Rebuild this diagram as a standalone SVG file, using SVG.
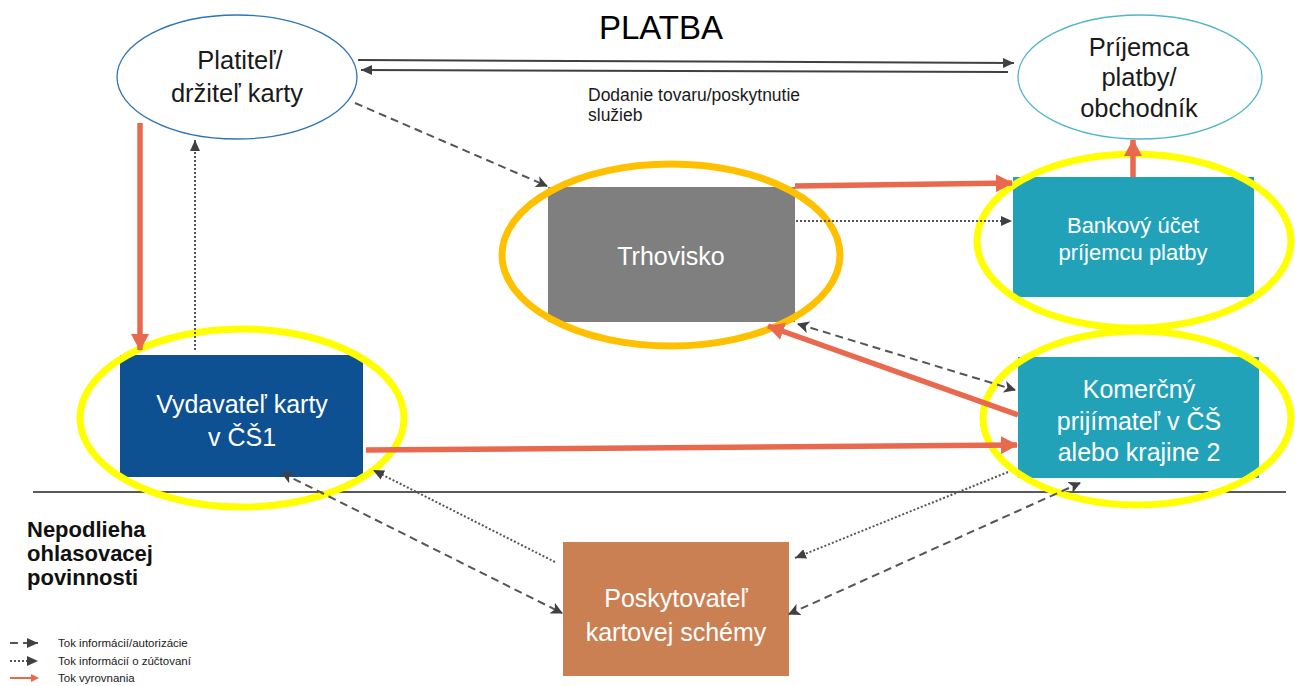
<svg xmlns="http://www.w3.org/2000/svg" width="1295" height="686" viewBox="0 0 1295 686">
  <style>
    text { font-family: "Liberation Sans", Arial, sans-serif; }
    .lbl { fill: #ffffff; font-size: 25px; text-anchor: middle; }
    .lblS { fill: #ffffff; font-size: 22px; text-anchor: middle; }
    .dark { fill: #1a1a1a; font-size: 25.5px; text-anchor: middle; }
    .note { font-size: 22px; font-weight: bold; fill: #111111; }
    .key { font-size: 11.5px; fill: #1a1a1a; }
    .settle { stroke: #E8694E; stroke-width: 5.5; fill: none; }
    .info { stroke: #555555; stroke-width: 2; stroke-dasharray: 8 5; fill: none; }
    .clear { stroke: #555555; stroke-width: 2; stroke-dasharray: 2 2; fill: none; }
    .goods { stroke: #404040; stroke-width: 2; fill: none; }
    .ringY { fill: none; stroke: #FFFF00; stroke-width: 7; }
    .ringO { fill: none; stroke: #FFC000; stroke-width: 7; }
  </style>
  <defs>
    <marker id="redHead" markerUnits="userSpaceOnUse" markerWidth="18" markerHeight="18" refX="16" refY="9" orient="auto">
      <path d="M0,0 L17,9 L0,18 z" fill="#E8694E"/>
    </marker>
    <marker id="grayHead" markerUnits="userSpaceOnUse" markerWidth="12" markerHeight="12" refX="11" refY="6" orient="auto-start-reverse">
      <path d="M0,0 L12,6 L0,12 L3,6 z" fill="#404040"/>
    </marker>
    <marker id="lineHead" markerUnits="userSpaceOnUse" markerWidth="12" markerHeight="12" refX="11" refY="6" orient="auto-start-reverse">
      <path d="M0,1 L11,6 L0,11 z" fill="#404040"/>
    </marker>
  </defs>

  <rect width="1295" height="686" fill="#ffffff"/>

  <text x="661" y="39" style="font-size:33px; fill:#000; text-anchor:middle">PLATBA</text>

  <!-- separator line -->
  <line x1="33" y1="492" x2="1286" y2="492" stroke="#595959" stroke-width="2"/>

  <g id="payer">
    <ellipse cx="237" cy="77" rx="120" ry="62" fill="#ffffff" stroke="#2E75B6" stroke-width="1.3"/>
    <text class="dark" x="240" y="69">Platiteľ/</text>
    <text class="dark" x="237" y="102">držiteľ karty</text>
  </g>

  <g id="payee">
    <ellipse cx="1140" cy="77" rx="122" ry="62" fill="#ffffff" stroke="#4DB7C9" stroke-width="1.3"/>
    <text class="dark" x="1139" y="56">Príjemca</text>
    <text class="dark" x="1139" y="86">platby/</text>
    <text class="dark" x="1139" y="117">obchodník</text>
  </g>

  <g id="marketplace">
    <rect x="548" y="187" width="247" height="135" fill="#7F7F7F"/>
    <text class="lbl" x="671" y="265">Trhovisko</text>
  </g>

  <g id="bank-account">
    <rect x="1013" y="177" width="241" height="120" fill="#22A2B9"/>
    <text class="lblS" x="1133" y="233">Bankový účet</text>
    <text class="lblS" x="1133" y="260">príjemcu platby</text>
  </g>

  <g id="acquirer">
    <rect x="1018" y="357" width="241" height="121" fill="#22A2B9"/>
    <text class="lbl" x="1139" y="398">Komerčný</text>
    <text class="lbl" x="1139" y="430">prijímateľ v ČŠ</text>
    <text class="lbl" x="1139" y="461">alebo krajine 2</text>
  </g>

  <g id="issuer">
    <rect x="120" y="355" width="243" height="122" fill="#0E5192"/>
    <text class="lbl" x="242" y="413">Vydavateľ karty</text>
    <text class="lbl" x="242" y="446">v ČŠ1</text>
  </g>

  <g id="scheme">
    <rect x="563" y="542" width="226" height="134" fill="#CB8054"/>
    <text class="lbl" x="676" y="607">Poskytovateľ</text>
    <text class="lbl" x="676" y="641">kartovej schémy</text>
  </g>

  <!-- highlight rings -->
  <g id="highlights">
    <ellipse class="ringO" cx="671" cy="255" rx="169" ry="91"/>
    <ellipse class="ringY" cx="1134" cy="241" rx="157" ry="87"/>
    <ellipse class="ringY" cx="1137" cy="418" rx="154" ry="87"/>
    <ellipse class="ringY" cx="242" cy="418" rx="162" ry="89"/>
  </g>

  <g id="connectors">
    <!-- goods / services exchange -->
    <line class="goods" x1="358" y1="60" x2="1014" y2="63" marker-end="url(#lineHead)"/>
    <line class="goods" x1="1008" y1="72" x2="361" y2="70" marker-end="url(#lineHead)"/>

    <!-- settlement flows -->
    <line class="settle" x1="140" y1="123" x2="140" y2="350" marker-end="url(#redHead)"/>
    <line class="settle" x1="1133" y1="177" x2="1133" y2="140" marker-end="url(#redHead)"/>
    <line class="settle" x1="795" y1="186" x2="1012" y2="183" marker-end="url(#redHead)"/>
    <line class="settle" x1="366" y1="450" x2="1017" y2="445" marker-end="url(#redHead)"/>
    <line class="settle" x1="1018" y1="415" x2="768" y2="326" marker-end="url(#redHead)"/>

    <!-- authorisation flows -->
    <line class="info" x1="355" y1="103" x2="547" y2="186" marker-end="url(#grayHead)"/>
    <line class="info" x1="798" y1="324" x2="1015" y2="390" marker-start="url(#grayHead)" marker-end="url(#grayHead)"/>
    <line class="info" x1="282" y1="473" x2="562" y2="613" marker-start="url(#grayHead)" marker-end="url(#grayHead)"/>
    <line class="info" x1="789" y1="614" x2="1080" y2="483" marker-start="url(#grayHead)" marker-end="url(#grayHead)"/>

    <!-- clearing information flows -->
    <line class="clear" x1="195" y1="350" x2="195" y2="140" marker-end="url(#lineHead)"/>
    <line class="clear" x1="796" y1="221" x2="1012" y2="221" marker-end="url(#lineHead)"/>
    <line class="clear" x1="555" y1="562" x2="373" y2="470" marker-end="url(#lineHead)"/>
    <line class="clear" x1="1008" y1="472" x2="795" y2="558" marker-end="url(#lineHead)"/>
  </g>

  <text x="588" y="101" style="font-size:17.5px; fill:#1a1a1a">Dodanie tovaru/poskytnutie</text>
  <text x="588" y="121" style="font-size:17.5px; fill:#1a1a1a">služieb</text>

  <g id="note">
    <text class="note" x="27" y="537">Nepodlieha</text>
    <text class="note" x="27" y="561">ohlasovacej</text>
    <text class="note" x="27" y="585">povinnosti</text>
  </g>

  <g id="legend">
    <line class="info" x1="10" y1="643" x2="38" y2="643" stroke-dasharray="6 5" marker-end="url(#lineHead)"/>
    <line class="clear" x1="10" y1="661" x2="38" y2="661" marker-end="url(#lineHead)"/>
    <line stroke="#E8694E" stroke-width="2" x1="10" y1="678" x2="34" y2="678"/>
    <path d="M31,674 L39,678 L31,682 z" fill="#E8694E"/>
    <text class="key" x="58" y="647">Tok informácií/autorizácie</text>
    <text class="key" x="58" y="665">Tok informácií o zúčtovaní</text>
    <text class="key" x="58" y="682">Tok vyrovnania</text>
  </g>
</svg>
